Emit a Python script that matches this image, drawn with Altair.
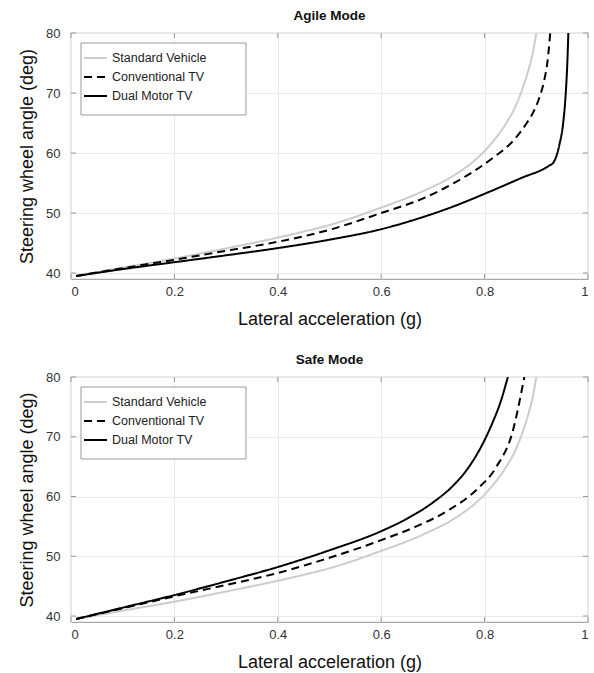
import altair as alt
import pandas as pd

series_names = ["Standard Vehicle", "Conventional TV", "Dual Motor TV"]
series_colors = ["#cccccc", "#000000", "#000000"]

# Standard vehicle (same in both modes)
std_x = [0.01, 0.1, 0.2, 0.3, 0.4, 0.45, 0.5, 0.6, 0.68, 0.745, 0.78, 0.81, 0.842, 0.861, 0.874, 0.885, 0.893, 0.9]
std_v = [39.5, 40.9, 42.4, 44.1, 45.9, 46.9, 48.0, 50.9, 53.6, 56.5, 58.7, 61.3, 65.0, 68.0, 70.9, 73.9, 76.6, 80.0]

# Agile mode
agile_conv_x = [0.01, 0.1, 0.2, 0.3, 0.4, 0.5, 0.6, 0.68, 0.745, 0.81, 0.861, 0.88, 0.893, 0.905, 0.915, 0.922, 0.927]
agile_conv_v = [39.5, 40.8, 42.2, 43.7, 45.2, 47.2, 50.0, 52.4, 55.2, 58.8, 62.6, 64.8, 66.6, 69.0, 72.0, 75.5, 80.0]
agile_dual_x = [0.01, 0.1, 0.2, 0.3, 0.4, 0.5, 0.6, 0.68, 0.74, 0.8, 0.87, 0.925, 0.933, 0.945, 0.952, 0.957, 0.96, 0.962]
agile_dual_v = [39.5, 40.65, 41.8, 42.95, 44.15, 45.55, 47.3, 49.3, 51.1, 53.2, 55.8, 57.9, 58.4, 61.5, 65.0, 70.0, 75.0, 80.0]

# Safe mode
safe_conv_x = [0.01, 0.1, 0.2, 0.3, 0.4, 0.487, 0.6, 0.668, 0.732, 0.784, 0.823, 0.855, 0.874, 0.877]
safe_conv_v = [39.5, 41.3, 43.3, 45.2, 47.2, 49.4, 52.7, 55.0, 57.8, 61.1, 65.0, 71.1, 78.7, 80.0]
safe_dual_x = [0.01, 0.1, 0.2, 0.3, 0.4, 0.5, 0.6, 0.65, 0.7, 0.74, 0.77, 0.795, 0.815, 0.83, 0.845]
safe_dual_v = [39.5, 41.4, 43.5, 45.8, 48.2, 51.0, 54.2, 56.3, 59.0, 61.9, 65.0, 68.6, 72.3, 75.6, 80.0]

x_ticks = [0, 0.2, 0.4, 0.6, 0.8, 1.0]
y_ticks = [40, 50, 60, 70, 80]

X_DOMAIN = [0, 1]
Y_DOMAIN = [39, 80]
W = 517

FONT = "Liberation Sans"


def make_df(pairs):
    rows = []
    for name, xs, vs in pairs:
        for a, b in zip(xs, vs):
            rows.append({"x": a, "v": b, "series": name})
    return pd.DataFrame(rows)


def panel(title, df, H):
    xs = alt.Scale(domain=X_DOMAIN, nice=False, zero=False)
    ys = alt.Scale(domain=Y_DOMAIN, nice=False, zero=False)
    leg = alt.Legend(
        orient="none", legendX=12, legendY=12.5, title=None,
        symbolType="stroke", symbolSize=529, symbolStrokeWidth=2,
        labelFontSize=12.5, labelFont=FONT, labelColor="#222222",
        labelOffset=4, rowPadding=0, padding=0,
    )
    lines = alt.Chart(df).mark_line(strokeWidth=2, clip=True, interpolate="monotone").encode(
        x=alt.X("x:Q", scale=xs, axis=alt.Axis(
            values=x_ticks, format=".1~f", title="Lateral acceleration (g)",
            labelFontSize=13, labelFont=FONT, labelColor="#333333", labelPadding=6,
            tickSize=0, domain=False, grid=True, gridColor="#e9e9e9",
            titleFontSize=18, titleFont=FONT, titleFontWeight="normal",
            titleColor="#111111", titlePadding=12)),
        y=alt.Y("v:Q", scale=ys, axis=alt.Axis(
            values=y_ticks, title="Steering wheel angle (deg)",
            labelFontSize=13, labelFont=FONT, labelColor="#333333", labelPadding=11,
            tickSize=0, domain=False, grid=True, gridColor="#e9e9e9",
            titleFontSize=18, titleFont=FONT, titleFontWeight="normal",
            titleColor="#111111", titlePadding=9)),
        color=alt.Color("series:N", scale=alt.Scale(domain=series_names, range=series_colors),
                        sort=series_names, legend=leg),
        strokeDash=alt.StrokeDash("series:N", scale=alt.Scale(
            domain=series_names, range=[[1, 0], [8, 5], [1, 0]]), sort=series_names, legend=leg),
        order=alt.Order("x:Q"),
    )
    box = alt.Chart(alt.Data(values=[{"a": 1}])).mark_rect(
        fill="white", stroke="#999999", strokeWidth=1
    ).encode(x=alt.value(10), x2=alt.value(175), y=alt.value(10), y2=alt.value(82))

    xt = pd.DataFrame({"t": x_ticks})
    yt = pd.DataFrame({"t": y_ticks})
    tick_col = "#999999"
    xt_top = alt.Chart(xt).mark_rule(color=tick_col).encode(
        x=alt.X("t:Q", scale=xs), y=alt.value(0), y2=alt.value(5))
    xt_bot = alt.Chart(xt).mark_rule(color=tick_col).encode(
        x=alt.X("t:Q", scale=xs), y=alt.value(H - 5), y2=alt.value(H))
    yt_left = alt.Chart(yt).mark_rule(color=tick_col).encode(
        y=alt.Y("t:Q", scale=ys), x=alt.value(0), x2=alt.value(5))
    yt_right = alt.Chart(yt).mark_rule(color=tick_col).encode(
        y=alt.Y("t:Q", scale=ys), x=alt.value(W - 5), x2=alt.value(W))

    return alt.layer(xt_top, xt_bot, yt_left, yt_right, lines, box).properties(
        width=W, height=H,
        title=alt.Title(title, fontSize=13.5, font=FONT, fontWeight="bold",
                        color="#111111", anchor="middle", offset=5),
    )


agile_df = make_df([
    ("Standard Vehicle", std_x, std_v),
    ("Conventional TV", agile_conv_x, agile_conv_v),
    ("Dual Motor TV", agile_dual_x, agile_dual_v),
])
safe_df = make_df([
    ("Standard Vehicle", std_x, std_v),
    ("Conventional TV", safe_conv_x, safe_conv_v),
    ("Dual Motor TV", safe_dual_x, safe_dual_v),
])

chart = alt.vconcat(
    panel("Agile Mode", agile_df, 246),
    panel("Safe Mode", safe_df, 245),
    spacing=22,
).resolve_legend(
    color="independent", strokeDash="independent"
).configure_view(
    stroke="#a8a8a8", strokeWidth=1.2
).properties(
    padding={"left": 17, "top": 7, "right": 0, "bottom": 2}, background="white"
)

chart.save("out.html", embed_options={"renderer": "svg", "actions": False})
